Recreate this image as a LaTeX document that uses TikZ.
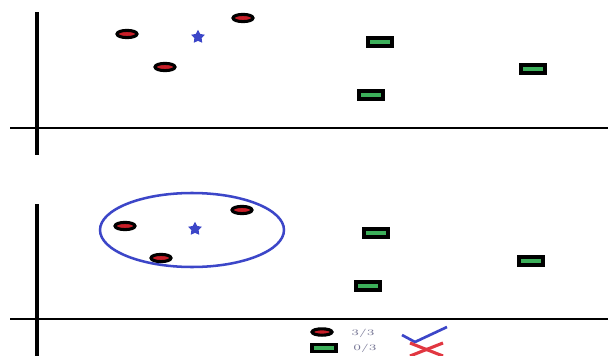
\documentclass[tikz,border=0pt]{standalone}
\usepackage{tikz}
\usetikzlibrary{
    shapes.geometric
}

\definecolor{ptred}{RGB}{200,30,40}
\definecolor{ptgreen}{RGB}{60,175,90}
\definecolor{ptblue}{RGB}{60,70,200}
\definecolor{xred}{RGB}{225,55,65}
\definecolor{legendgray}{RGB}{120,120,150}

\begin{document}
\begin{tikzpicture}[x=0.025cm,y=-0.025cm,
    redpt/.style={ellipse,draw=black,line width=2.2pt,fill=ptred,
        minimum width=0.5cm,minimum height=0.18cm,inner sep=0pt},
    greenpt/.style={rectangle,draw=black,line width=2.4pt,fill=ptgreen,
        minimum width=0.6cm,minimum height=0.2cm,inner sep=0pt},
    centroid/.style={star,star points=5,star point ratio=1.9,fill=ptblue,
        minimum size=0.36cm,inner sep=0pt},
    frac/.style={text=legendgray,font=\fontsize{6}{6}\selectfont,inner sep=0pt}
]
\useasboundingbox (0,0) rectangle (608,356);

% Top panel: axes
\draw[line width=2.8pt] (37,12) -- (37,155);
\draw[line width=1.4pt] (10,128) -- (608,128);

% Top panel: points
\node[redpt] (r1) at (127,34) {};
\node[redpt] (r2) at (243,18) {};
\node[redpt] (r3) at (165,67) {};
\node[centroid] (s1) at (198,37) {};
\node[greenpt] (g1) at (380,42) {};
\node[greenpt] (g2) at (533,69) {};
\node[greenpt] (g3) at (371,95) {};

% Bottom panel: axes
\draw[line width=2.8pt] (37,204) -- (37,356);
\draw[line width=1.4pt] (10,319) -- (608,319);

% Bottom panel: cluster
\draw[ptblue,line width=1.8pt] (192,230) ellipse [x radius=92,y radius=37];
\node[redpt] (q1) at (125,226) {};
\node[redpt] (q2) at (242,210) {};
\node[redpt] (q3) at (161,258) {};
\node[centroid] (s2) at (195,229) {};
\node[greenpt] (h1) at (376,233) {};
\node[greenpt] (h2) at (531,261) {};
\node[greenpt] (h3) at (368,286) {};

% Legend
\node[redpt,minimum height=0.16cm] (lr) at (322,332) {};
\node[greenpt,minimum height=0.17cm] (lg) at (324,348) {};
\node[frac] (t1) at (363,333) {\scalebox{1.5}[1]{3/3}};
\node[frac] (t2) at (365,348) {\scalebox{1.5}[1]{0/3}};

% Check and cross
\draw[ptblue,line width=1.9pt,line join=round] (402,335) -- (415,342) -- (447,327);
\draw[xred,line width=2.2pt] (410,343) -- (443,356);
\draw[xred,line width=2.2pt] (410,356) -- (443,343);

\end{tikzpicture}
\end{document}
